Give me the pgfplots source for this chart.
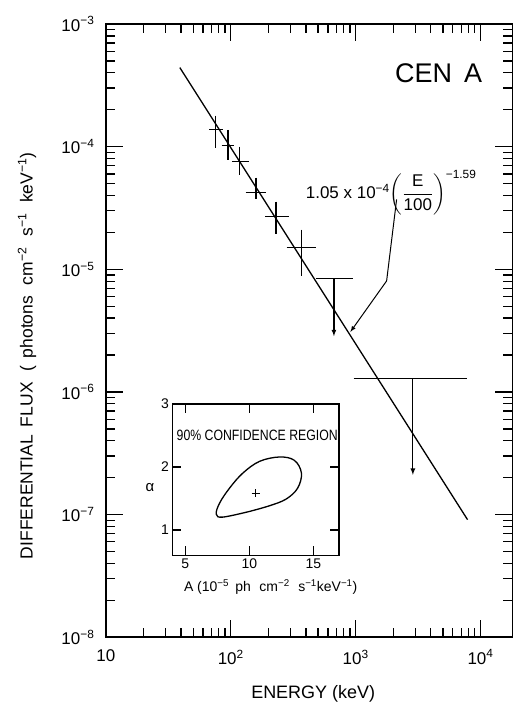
\documentclass[border=0pt]{standalone}
\usepackage{fontspec}
\setmainfont{Liberation Sans}
\newfontfamily\narrowfont{Liberation Sans}[FakeStretch=0.82]
\usepackage{amsmath}
\usepackage{pgfplots}
\pgfplotsset{compat=1.18}

\newcommand{\fsz}[1]{\fontsize{#1bp}{#1bp}\selectfont}
\tikzset{tk/.style={black, line width=1.3bp}, seg/.style={black, line width=1.2bp}}

\begin{document}
\begin{tikzpicture}
\begin{axis}[
  at={(0,0)}, anchor=south west,
  scale only axis, width=407bp, height=614bp,
  xmode=log, ymode=log,
  xmin=10, xmax=1.8e4, ymin=1e-8, ymax=1e-3,
  xtick={10,100,1000,10000},
  ytick={1e-8,1e-7,1e-6,1e-5,1e-4,1e-3},
  minor tick num=0,
  major tick length=0pt, minor tick length=0pt,
  tick style={draw=none},
  axis line style={line width=1.6bp},
  xticklabels={10,10\textsuperscript{2},10\textsuperscript{3},10\textsuperscript{4}},
  yticklabels={10\textsuperscript{−8},10\textsuperscript{−7},10\textsuperscript{−6},10\textsuperscript{−5},10\textsuperscript{−4},10\textsuperscript{−3}},
  xticklabel style={font=\fsz{17}, yshift=-9bp},
  yticklabel style={font=\fsz{17}, xshift=-8bp},
  xlabel={ENERGY (keV)},
  xlabel style={font=\fsz{18}, at={(axis description cs:0.51,-0.093)}, anchor=center},
  ylabel={DIFFERENTIAL\, FLUX\,\, (\, photons\,\, cm\textsuperscript{−2}\,\, s\textsuperscript{−1}\,\, keV\textsuperscript{−1})},
  ylabel style={font=\fsz{17.5}, at={(axis description cs:-0.194,0.459)}, anchor=center},
]
% tick marks, inside, on all four sides
\pgfplotsinvokeforeach{10,100,1000,10000}{
  \draw[tk] (axis cs:#1,1e-8) -- ++(0bp,17bp);
  \draw[tk] (axis cs:#1,1e-3) -- ++(0bp,-17bp);}
\pgfplotsinvokeforeach{20,30,40,50,60,70,80,90,200,300,400,500,600,700,800,900,2000,3000,4000,5000,6000,7000,8000,9000}{
  \draw[tk] (axis cs:#1,1e-8) -- ++(0bp,9bp);
  \draw[tk] (axis cs:#1,1e-3) -- ++(0bp,-9bp);}
\pgfplotsinvokeforeach{1e-8,1e-7,1e-6,1e-5,1e-4,1e-3}{
  \draw[tk] (axis cs:10,#1) -- ++(17bp,0bp);
  \draw[tk] (axis cs:1.8e4,#1) -- ++(-17bp,0bp);}
\pgfplotsinvokeforeach{2e-8,3e-8,4e-8,5e-8,6e-8,7e-8,8e-8,9e-8,2e-7,3e-7,4e-7,5e-7,6e-7,7e-7,8e-7,9e-7,2e-6,3e-6,4e-6,5e-6,6e-6,7e-6,8e-6,9e-6,2e-5,3e-5,4e-5,5e-5,6e-5,7e-5,8e-5,9e-5,2e-4,3e-4,4e-4,5e-4,6e-4,7e-4,8e-4,9e-4}{
  \draw[tk] (axis cs:10,#1) -- ++(9bp,0bp);
  \draw[tk] (axis cs:1.8e4,#1) -- ++(-9bp,0bp);}
% power-law fit line
\addplot[black, line width=1.3bp] coordinates {(39.1,4.41e-4) (7870,9.1e-8)};
% measured points: error crosses
\addplot[seg] coordinates {(67.5,1.39e-4) (86.3,1.39e-4)};
\addplot[seg] coordinates {(75.5,1.79e-4) (75.5,9.8e-5)};
\addplot[seg] coordinates {(84.4,1.02e-4) (105.7,1.02e-4)};
\addplot[seg] coordinates {(95.1,1.37e-4) (95.1,7.83e-5)};
\addplot[seg] coordinates {(101.9,7.58e-5) (139.3,7.58e-5)};
\addplot[seg] coordinates {(117.4,1.0e-4) (117.4,5.91e-5)};
\addplot[seg] coordinates {(131.8,4.2e-5) (190.5,4.2e-5)};
\addplot[seg] coordinates {(159,5.6e-5) (159,3.71e-5)};
\addplot[seg] coordinates {(189.5,2.71e-5) (291,2.71e-5)};
\addplot[seg] coordinates {(230,3.57e-5) (230,1.93e-5)};
\addplot[seg] coordinates {(280.5,1.5e-5) (478.6,1.5e-5)};
\addplot[seg] coordinates {(368,2.11e-5) (368,8.83e-6)};
% upper limits
\addplot[seg] coordinates {(479,8.4e-6) (946,8.4e-6)};
\addplot[seg, -latex] coordinates {(670,8.4e-6) (670,2.85e-6)};
\addplot[seg] coordinates {(964,1.29e-6) (7760,1.29e-6)};
\addplot[seg, -latex] coordinates {(2873,1.29e-6) (2873,2.11e-7)};
% annotations
\node[font=\fsz{27}] at (axis cs:4613,4.0e-4) {CEN\, A};
\node[font=\fsz{17}, anchor=base west, inner sep=0] at (axis cs:398,3.78e-5)
  {1.05 x 10\textsuperscript{−4}$\left(\dfrac{\text{E}}{\text{100}}\right)^{\text{−1.59}}$};
\draw[black, line width=1bp, -latex] (axis cs:2128,3.71e-5) -- (axis cs:1770,8.04e-6) -- (axis cs:908,3.09e-6);
\end{axis}

\begin{axis}[
  at={(66.7bp,82bp)}, anchor=south west,
  scale only axis, width=166.6bp, height=151.7bp,
  xmin=4, xmax=17, ymin=0.6, ymax=3,
  xtick={5,10,15}, ytick={1,2,3},
  minor tick num=0,
  major tick length=0pt, tick style={draw=none},
  axis line style={line width=1.5bp},
  xticklabels={5,10,15}, yticklabels={1,2,3},
  xticklabel style={font=\fsz{14}},
  yticklabel style={font=\fsz{14}},
  xlabel={A (10\textsuperscript{−5}\, ph\,\, cm\textsuperscript{−2}\,\, s\textsuperscript{−1}keV\textsuperscript{−1})},
  xlabel style={font=\fsz{14}, at={(axis description cs:0.59,-0.211)}, anchor=center},
  ylabel={α},
  ylabel style={font=\fsz{15}, at={(axis description cs:-0.136,0.448)}, anchor=center, rotate=-90},
]
\pgfplotsinvokeforeach{5,10,15}{
  \draw[tk] (axis cs:#1,0.6) -- ++(0bp,9bp);
  \draw[tk] (axis cs:#1,3) -- ++(0bp,-9bp);}
\pgfplotsinvokeforeach{1,2}{
  \draw[tk] (axis cs:4,#1) -- ++(9bp,0bp);
  \draw[tk] (axis cs:17,#1) -- ++(-9bp,0bp);}
\addplot[black, line width=1.3bp, smooth, tension=0.6] coordinates {
  (10.02,1.296) (7.94,1.206) (7.42,1.253) (7.68,1.428) (8.46,1.666) (9.50,1.904)
  (10.80,2.089) (12.36,2.158) (13.52,2.105) (14.07,1.904) (13.78,1.666) (12.88,1.492)
  (11.58,1.386) (10.02,1.296)
};
\addplot[black, only marks, mark=+, mark size=4bp, mark options={line width=1bp}] coordinates {(10.49,1.587)};
\node[font=\narrowfont\fsz{15}, anchor=west, inner sep=0] at (axis cs:4.31,2.50) {90\% CONFIDENCE REGION};
\end{axis}
\path (-106bp,-68bp) rectangle (410bp,638bp);
\end{tikzpicture}
\end{document}
